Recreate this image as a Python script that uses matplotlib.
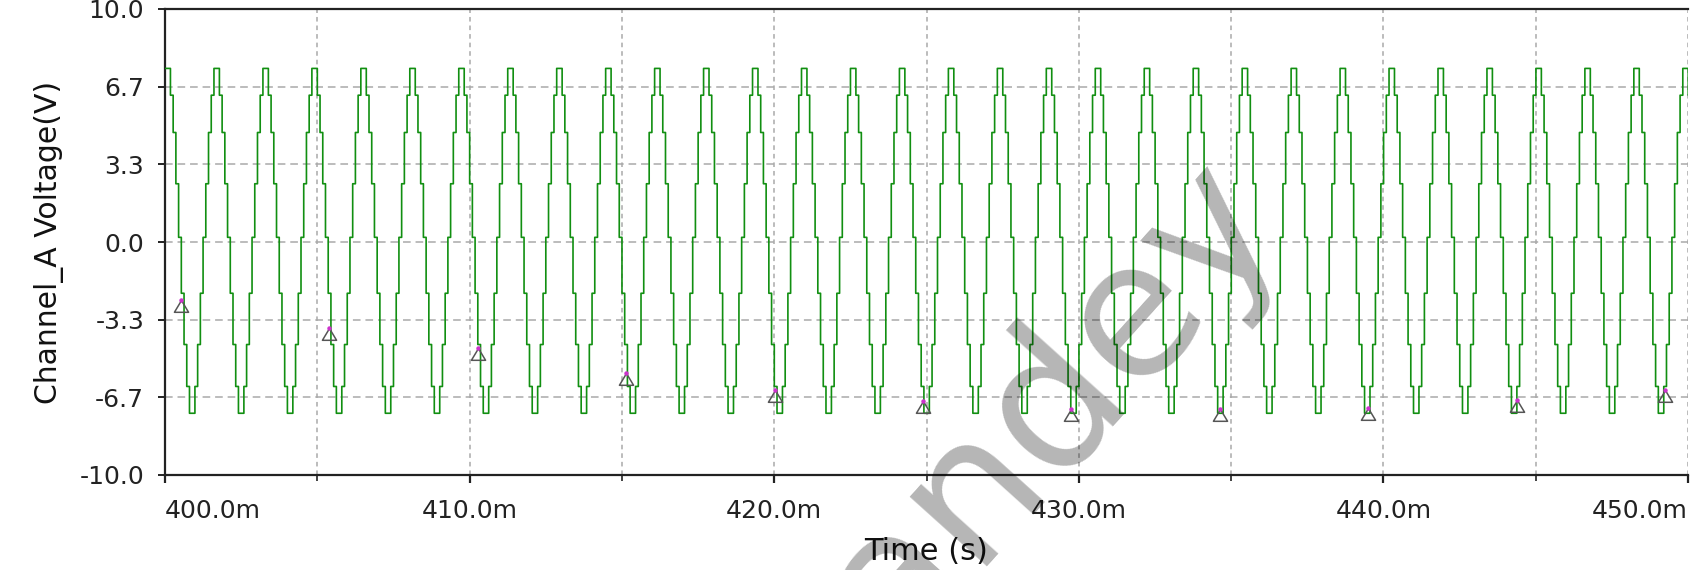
import numpy as np
import matplotlib
matplotlib.use("Agg")
import matplotlib.pyplot as plt
from matplotlib.ticker import FixedLocator, FuncFormatter

# Stepped Channel_A waveform: one cycle of sample levels (V), starting at the crest
cycle_levels = [7.45, 7.45, 6.3, 4.7, 2.5, 0.2, -2.2, -4.4, -6.2,
                -7.35, -7.35, -6.2, -4.4, -2.2, 0.2, 2.5, 4.7, 6.3]
n_cycles = 32
t0_ms = 400.0
step_ms = 0.0893

# Triangle probe samples (ms, V)
marker_t = [400.54, 405.39, 410.28, 415.13, 420.02, 424.88,
            429.76, 434.62, 439.51, 444.40, 449.25]
marker_v = [-2.49, -3.71, -4.55, -5.63, -6.34, -6.81,
            -7.18, -7.18, -7.14, -6.76, -6.34]

x_major = [400, 410, 420, 430, 440, 450]
x_minor = [405, 415, 425, 435, 445]
y_ticks = [-10.0, -6.667, -3.333, 0.0, 3.333, 6.667, 10.0]

volts = np.tile(cycle_levels, n_cycles)
times = t0_ms + step_ms * np.arange(len(volts))

plt.rcParams['font.family'] = ['DejaVu Sans']

fig = plt.figure(figsize=(17.04, 5.70), dpi=100)
ax = fig.add_axes([165 / 1704, 1 - 475 / 570, 1523 / 1704, 466 / 570])

ax.plot(times, volts, drawstyle='steps-post', color='#118f11', lw=1.2, zorder=3)

# triangle with its apex on the sampled point
tri = [(0, 0), (-0.6, -1.0), (0.6, -1.0), (0, 0)]
ax.plot(marker_t, marker_v, ls='none', marker=tri, ms=17, mfc='none',
        mec='#555555', mew=1.1, zorder=4)
ax.plot(marker_t, marker_v, ls='none', marker='o', ms=2.2, color='#cc33cc', zorder=5)

ax.set_xlim(400, 450)
ax.set_ylim(-10, 10)

ax.xaxis.set_major_locator(FixedLocator(x_major))
ax.xaxis.set_minor_locator(FixedLocator(x_minor))
ax.xaxis.set_major_formatter(FuncFormatter(lambda v, p: f"{v:.1f}m"))
ax.yaxis.set_major_locator(FixedLocator(y_ticks))
ax.yaxis.set_major_formatter(FuncFormatter(lambda v, p: f"{v:.1f}"))

ax.grid(True, axis='y', which='major', color='#a9a9a9', lw=1.1, ls=(0, (5, 3.2)))
ax.grid(True, axis='x', which='both', color='#a9a9a9', lw=1.1, ls=(0, (3.0, 2.6)))

for side in ['left', 'bottom', 'top']:
    ax.spines[side].set_color('#222222')
    ax.spines[side].set_linewidth(1.6)
ax.spines['right'].set_visible(False)

ax.tick_params(axis='y', which='major', length=5, width=1.4, pad=10,
               labelsize=18, colors='#222222')
ax.tick_params(axis='x', which='major', length=6, width=1.6, pad=11,
               labelsize=18, colors='#222222')
ax.tick_params(axis='x', which='minor', length=4, width=1.2, colors='#222222')

fig.canvas.draw()
xlabels = ax.xaxis.get_majorticklabels()
xlabels[0].set_horizontalalignment('left')
xlabels[-1].set_horizontalalignment('right')

ax.set_xlabel("Time (s)", fontsize=22, color='#111111')
ax.xaxis.label.set_verticalalignment('center')
ax.xaxis.set_label_coords(0.5, -0.165)
ax.set_ylabel("Channel_A Voltage(V)", fontsize=21.5, color='#111111')
ax.yaxis.label.set_verticalalignment('center')
ax.yaxis.set_label_coords(-0.076, 0.5)

# watermark
fig.text(0.595, 0.232, "Pandey", fontsize=136, rotation=48, color='black',
         alpha=0.29, ha='center', va='center', zorder=10)

plt.savefig('out.png', dpi=100)
plt.close()
